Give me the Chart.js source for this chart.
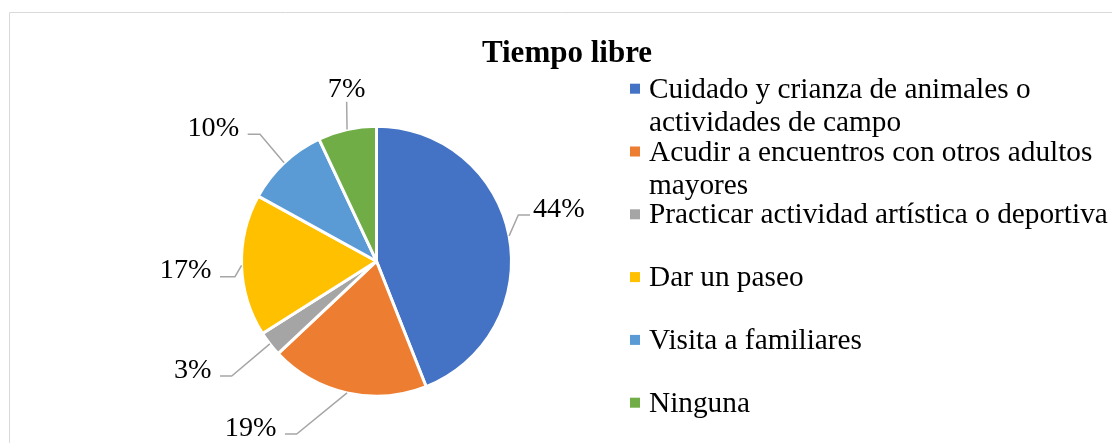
<!DOCTYPE html>
<html>
<head>
<meta charset="utf-8">
<script src="https://cdn.jsdelivr.net/npm/chart.js@4.4.1/dist/chart.umd.min.js"></script>
<style>
  html, body { margin: 0; padding: 0; background: #ffffff; }
  #wrap { position: relative; width: 1112px; height: 443px; }
</style>
</head>
<body>
<div id="wrap"><canvas id="c" width="1112" height="443"></canvas></div>
<script>
// ---- data ----
const chartTitle = "Tiempo libre";
const categories = [
  ["Cuidado y crianza de animales o", "actividades de campo"],
  ["Acudir a encuentros con otros adultos", "mayores"],
  ["Practicar actividad artística o deportiva"],
  ["Dar un paseo"],
  ["Visita a familiares"],
  ["Ninguna"]
];
const percentages = [44, 19, 3, 17, 10, 7];
const sliceColors = ["#4472C4", "#ED7D31", "#A5A5A5", "#FFC000", "#5B9BD5", "#70AD47"];

// ---- label leader layout (offsets from slice edge) ----
const leaderLayout = [
  { dx: 9.2,  dy: -20.9, hx: 11.7,  align: "left" },
  { dx: -50.4, dy: 41.1, hx: -11.7, align: "right" },
  { dx: -38.1, dy: 32.1, hx: -11.7, align: "right" },
  { dx: -6.6, dy: 11.3,  hx: -15,   align: "right" },
  { dx: -24.1, dy: -28.5, hx: -12.3, align: "right" },
  { dx: -0.4, dy: -27.8, hx: 0,     align: "center" }
];

const SERIF = "'Liberation Serif', 'Times New Roman', serif";

const framePlugin = {
  id: "frame",
  beforeDraw(chart) {
    const ctx = chart.ctx;
    ctx.save();
    ctx.strokeStyle = "#D9D9D9";
    ctx.lineWidth = 1;
    ctx.beginPath();
    ctx.moveTo(9.5, 460);
    ctx.lineTo(9.5, 12.5);
    ctx.lineTo(1130, 12.5);
    ctx.stroke();
    ctx.restore();
  }
};

const labelsPlugin = {
  id: "pieLabels",
  afterDatasetsDraw(chart) {
    const ctx = chart.ctx;
    const meta = chart.getDatasetMeta(0);
    const values = chart.data.datasets[0].data;
    ctx.save();
    meta.data.forEach((arc, i) => {
      const p = arc.getProps(["x", "y", "startAngle", "endAngle", "outerRadius"], true);
      const mid = (p.startAngle + p.endAngle) / 2;
      const sx = p.x + Math.cos(mid) * p.outerRadius;
      const sy = p.y + Math.sin(mid) * p.outerRadius;
      const L = leaderLayout[i];
      const ex = sx + L.dx, ey = sy + L.dy;
      const hx = ex + L.hx;
      ctx.strokeStyle = "#A6A6A6";
      ctx.lineWidth = 1.5;
      ctx.beginPath();
      ctx.moveTo(sx, sy);
      ctx.lineTo(ex, ey);
      if (L.hx !== 0) ctx.lineTo(hx, ey);
      ctx.stroke();
      ctx.fillStyle = "#000000";
      ctx.font = "28.2px " + SERIF;
      ctx.textBaseline = "alphabetic";
      const txt = values[i] + "%";
      if (L.align === "left") {
        ctx.textAlign = "left";
        ctx.fillText(txt, hx + 3, ey + 1.5);
      } else if (L.align === "right") {
        ctx.textAlign = "right";
        ctx.fillText(txt, hx - 8.5, ey + 1.5);
      } else {
        ctx.textAlign = "center";
        ctx.fillText(txt, ex, ey - 5);
      }
    });
    ctx.restore();
  }
};

const legendTitlePlugin = {
  id: "legendTitle",
  afterDraw(chart) {
    const ctx = chart.ctx;
    ctx.save();
    // title
    ctx.fillStyle = "#000000";
    ctx.font = "bold 31px " + SERIF;
    ctx.textAlign = "center";
    ctx.textBaseline = "alphabetic";
    ctx.fillText(chartTitle, 567, 61.7);
    // legend
    const labels = chart.data.labels;
    const colors = chart.data.datasets[0].backgroundColor;
    ctx.font = "29.3px " + SERIF;
    ctx.textAlign = "left";
    labels.forEach((lab, i) => {
      const base = 97.7 + i * 62.8;
      ctx.fillStyle = colors[i];
      ctx.fillRect(630, base - 14, 10, 10);
      ctx.fillStyle = "#000000";
      lab.forEach((line, j) => {
        ctx.fillText(line, 649, base + j * 33);
      });
    });
    ctx.restore();
  }
};

new Chart(document.getElementById("c"), {
  type: "pie",
  data: {
    labels: categories,
    datasets: [{
      data: percentages,
      backgroundColor: sliceColors,
      borderColor: "#ffffff",
      borderWidth: 3,
      radius: 135,
      hoverOffset: 0
    }]
  },
  options: {
    responsive: false,
    animation: false,
    layout: { padding: { left: 241.5, right: 600.5, top: 126, bottom: 46.6 } },
    plugins: {
      legend: { display: false },
      title: { display: false },
      tooltip: { enabled: false }
    }
  },
  plugins: [framePlugin, labelsPlugin, legendTitlePlugin]
});
</script>
</body>
</html>
